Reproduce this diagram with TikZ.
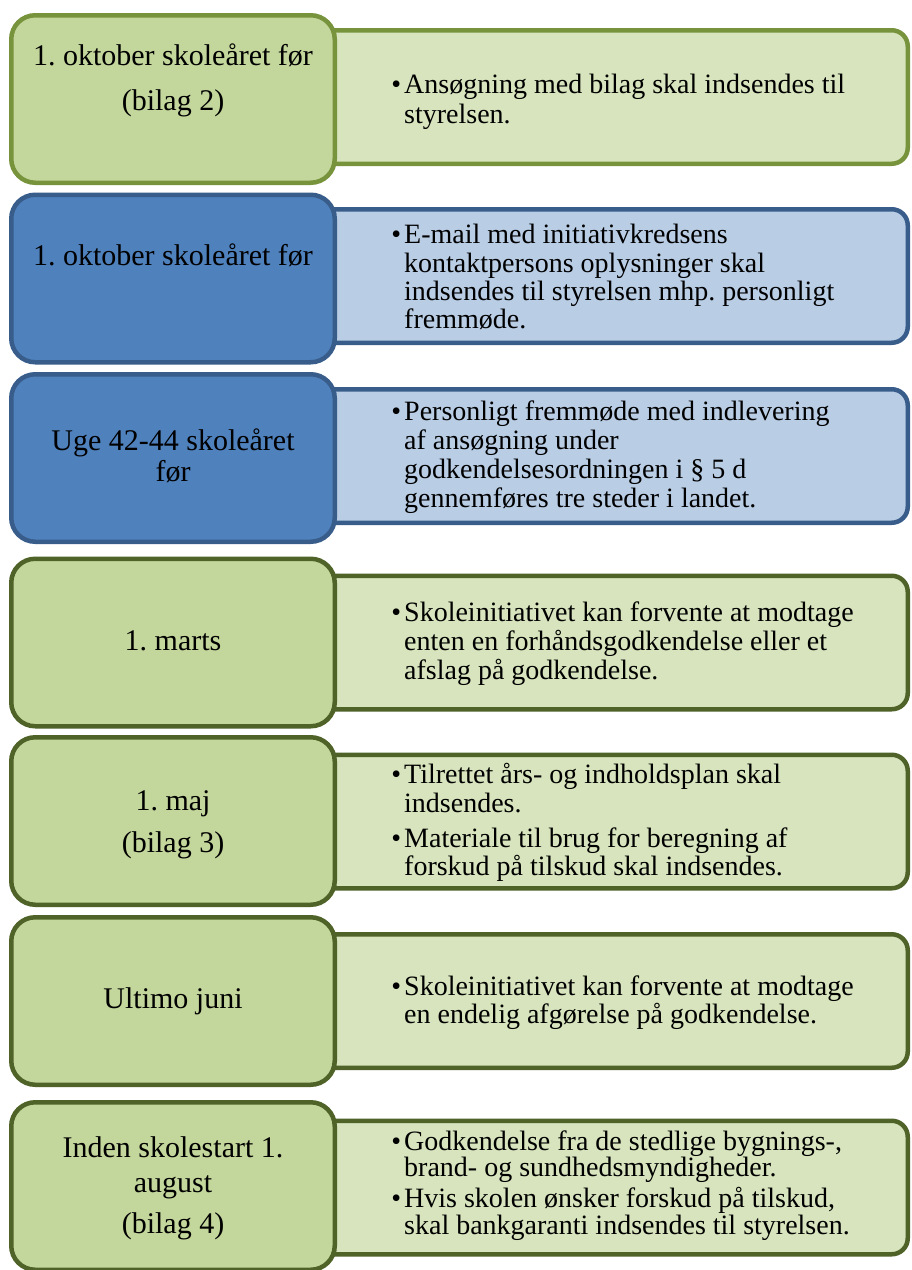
\documentclass[tikz,border=0pt]{standalone}
\usepackage{fontspec}
\setmainfont{Liberation Serif}
\definecolor{gfillL}{HTML}{C3D69B}
\definecolor{gfillR}{HTML}{D7E4BD}
\definecolor{glineA}{HTML}{77933C}
\definecolor{glineB}{HTML}{4F6228}
\definecolor{bfillL}{HTML}{4F81BD}
\definecolor{bfillR}{HTML}{B9CDE5}
\definecolor{bline}{HTML}{385D8A}
\frenchspacing
\begin{document}
\begin{tikzpicture}[x=1pt,y=-1pt,
  lbox/.style={draw, line width=4.5pt, rounded corners=24pt, minimum width=323.5pt, minimum height=167.5pt, inner sep=0pt},
  rbox/.style={draw, line width=4.5pt, rounded corners=16pt, minimum width=607.5pt, minimum height=133.5pt, inner sep=0pt},
  ltext/.style={anchor=base, font=\fontsize{30}{33}\selectfont, inner sep=0pt},
  rtext/.style={anchor=base west, font=\fontsize{28}{29}\selectfont, inner sep=0pt},
  gA/.style={draw=glineA},
  gB/.style={draw=glineB},
  bl/.style={draw=bline},
  gL/.style={fill=gfillL}, gR/.style={fill=gfillR},
  bL/.style={fill=bfillL}, bR/.style={fill=bfillR}]
\useasboundingbox (0,0) rectangle (912,1270);
\fill[white] (0,0) rectangle (912,1270);
\newcommand{\bul}{\llap{•\hspace{3pt}}}
% Row 1
\node[rbox,gA,gR] (R1) at (604,97) {};
\node[lbox,gA,gL] (L1) at (173,99) {};
\node[ltext] (l1a) at (173,65) {1. oktober skoleåret før};
\node[ltext] (l1b) at (173,110) {(bilag 2)};
\node[rtext] (r1a) at (404,93) {\bul Ansøgning med bilag skal indsendes til};
\node[rtext] (r1b) at (404,123) {styrelsen.};
% Row 2
\node[rbox,bl,bR] (R2) at (604,276) {};
\node[lbox,bl,bL] (L2) at (173,278.5) {};
\node[ltext] (l2a) at (173,265) {1. oktober skoleåret før};
\node[rtext] (r2a) at (404,243) {\bul E-mail med initiativkredsens};
\node[rtext] (r2b) at (404,272) {kontaktpersons oplysninger skal};
\node[rtext] (r2c) at (404,300) {indsendes til styrelsen mhp. personligt};
\node[rtext] (r2d) at (404,328) {fremmøde.};
% Row 3
\node[rbox,bl,bR] (R3) at (604,456) {};
\node[lbox,bl,bL] (L3) at (173,458) {};
\node[ltext] (l3a) at (173,450) {Uge 42-44 skoleåret};
\node[ltext] (l3b) at (173,481) {før};
\node[rtext] (r3a) at (404,420) {\bul Personligt fremmøde med indlevering};
\node[rtext] (r3b) at (404,449) {af ansøgning under};
\node[rtext] (r3c) at (404,478) {godkendelsesordningen i § 5 d};
\node[rtext] (r3d) at (404,507) {gennemføres tre steder i landet.};
% Row 4
\node[rbox,gB,gR] (R4) at (604,642.5) {};
\node[lbox,gB,gL] (L4) at (173,642.5) {};
\node[ltext] (l4a) at (173,650) {1. marts};
\node[rtext] (r4a) at (404,621) {\bul Skoleinitiativet kan forvente at modtage};
\node[rtext] (r4b) at (404,650) {enten en forhåndsgodkendelse eller et};
\node[rtext] (r4c) at (404,679) {afslag på godkendelse.};
% Row 5
\node[rbox,gB,gR] (R5) at (604,821.5) {};
\node[lbox,gB,gL] (L5) at (173,821) {};
\node[ltext] (l5a) at (173,810) {1. maj};
\node[ltext] (l5b) at (173,852) {(bilag 3)};
\node[rtext] (r5a) at (404,783) {\bul Tilrettet års- og indholdsplan skal};
\node[rtext] (r5b) at (404,812) {indsendes.};
\node[rtext] (r5c) at (404,847) {\bul Materiale til brug for beregning af};
\node[rtext] (r5d) at (404,875) {forskud på tilskud skal indsendes.};
% Row 6
\node[rbox,gB,gR] (R6) at (604,1001) {};
\node[lbox,gB,gL] (L6) at (173,1001) {};
\node[ltext] (l6a) at (173,1008) {Ultimo juni};
\node[rtext] (r6a) at (404,995) {\bul Skoleinitiativet kan forvente at modtage};
\node[rtext] (r6b) at (404,1023) {en endelig afgørelse på godkendelse.};
% Row 7
\node[rbox,gB,gR] (R7) at (604,1187.5) {};
\node[lbox,gB,gL] (L7) at (173,1186) {};
\node[ltext] (l7a) at (173,1157) {Inden skolestart 1.};
\node[ltext] (l7b) at (173,1192) {august};
\node[ltext] (l7c) at (173,1233) {(bilag 4)};
\node[rtext] (r7a) at (404,1150) {\bul Godkendelse fra de stedlige bygnings-,};
\node[rtext] (r7b) at (404,1176) {brand- og sundhedsmyndigheder.};
\node[rtext] (r7c) at (404,1207) {\bul Hvis skolen ønsker forskud på tilskud,};
\node[rtext] (r7d) at (404,1234) {skal bankgaranti indsendes til styrelsen.};
\end{tikzpicture}
\end{document}
